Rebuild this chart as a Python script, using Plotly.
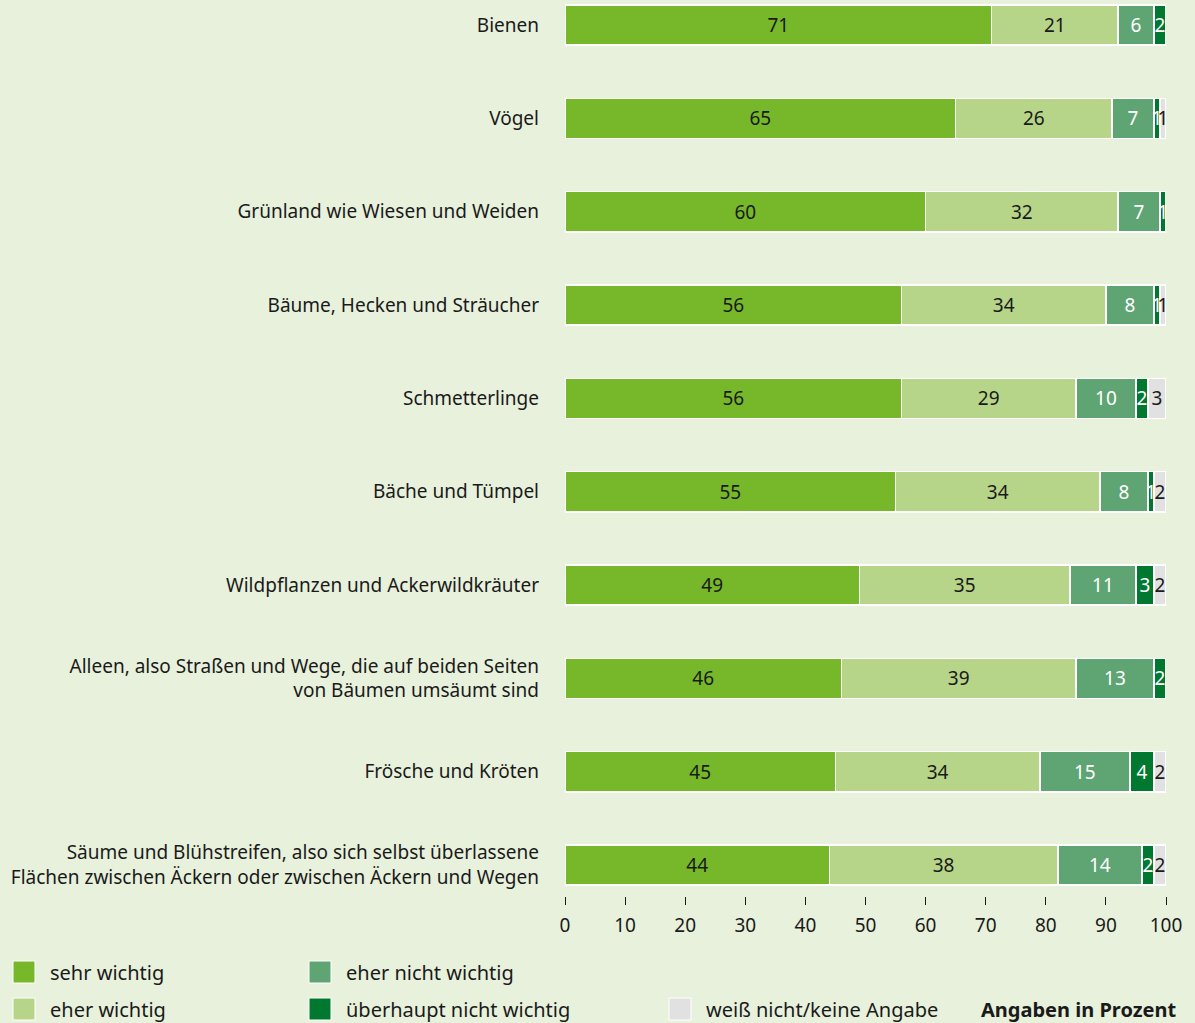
import plotly.graph_objects as go

categories = [
    "Bienen",
    "Vögel",
    "Grünland wie Wiesen und Weiden",
    "Bäume, Hecken und Sträucher",
    "Schmetterlinge",
    "Bäche und Tümpel",
    "Wildpflanzen und Ackerwildkräuter",
    "Alleen, also Straßen und Wege, die auf beiden Seiten<br>von Bäumen umsäumt sind",
    "Frösche und Kröten",
    "Säume und Blühstreifen, also sich selbst überlassene<br>Flächen zwischen Äckern oder zwischen Äckern und Wegen",
]

sehr_wichtig = [71, 65, 60, 56, 56, 55, 49, 46, 45, 44]
eher_wichtig = [21, 26, 32, 34, 29, 34, 35, 39, 34, 38]
eher_nicht_wichtig = [6, 7, 7, 8, 10, 8, 11, 13, 15, 14]
ueberhaupt_nicht = [2, 1, 1, 1, 2, 1, 3, 2, 4, 2]
weiss_nicht = [0, 1, 0, 1, 3, 2, 2, 0, 2, 2]

series_names = ["sehr wichtig", "eher wichtig", "eher nicht wichtig",
                "überhaupt nicht wichtig", "weiß nicht/keine Angabe"]
series_values = [sehr_wichtig, eher_wichtig, eher_nicht_wichtig, ueberhaupt_nicht, weiss_nicht]
colors = ["#76b82a", "#b7d588", "#5fa574", "#00782f", "#e1e1e1"]
text_colors = ["#1a1a1a", "#1a1a1a", "#ffffff", "#ffffff", "#1a1a1a"]

x_ticks = [0, 10, 20, 30, 40, 50, 60, 70, 80, 90, 100]

FONT = "Noto Sans"
BG = "#e8f1dc"

fig = go.Figure()
for name, vals, col, tcol in zip(series_names, series_values, colors, text_colors):
    fig.add_trace(go.Bar(
        y=categories, x=vals, orientation="h", name=name,
        marker=dict(color=col, line=dict(color="white", width=1.5)),
        text=[str(v) if v > 0 else "" for v in vals],
        textposition="inside", insidetextanchor="middle",
        textangle=0, constraintext="none", cliponaxis=False,
        textfont=dict(color=tcol, size=19, family=FONT),
        width=0.43, showlegend=False, hoverinfo="skip",
    ))

# manual legend (series index, column, row)
legend_items = [(0, 0, 0), (1, 0, 1), (2, 1, 0), (3, 1, 1), (4, 2, 1)]
col_x = [13, 309, 669]
row_y = [972, 1009]
shapes = []
annotations = []
for idx, c, r in legend_items:
    x0 = col_x[c]
    yc = row_y[r]
    shapes.append(dict(type="rect", xref="x domain", yref="paper",
                       x0=(x0 - 565) / 601, x1=(x0 + 22 - 565) / 601,
                       y0=-(yc + 11 - 896) / 896, y1=-(yc - 11 - 896) / 896,
                       fillcolor=colors[idx], line=dict(color="white", width=1)))
    annotations.append(dict(xref="x domain", yref="paper",
                            x=(x0 + 35 - 565) / 601, y=-(yc - 896) / 896,
                            text=series_names[idx], showarrow=False,
                            xanchor="left", yanchor="middle",
                            font=dict(size=20, family=FONT, color="#1a1a1a")))
annotations.append(dict(xref="x domain", yref="paper",
                        x=(1178 - 565) / 601, y=-(1009 - 896) / 896,
                        text="<b>Angaben in Prozent</b>", showarrow=False,
                        xanchor="right", yanchor="middle",
                        font=dict(size=20, family=FONT, color="#1a1a1a")))

fig.update_layout(
    barmode="stack",
    width=1195, height=1023,
    margin=dict(l=565, r=29, t=0, b=127),
    paper_bgcolor=BG, plot_bgcolor=BG,
    font=dict(family=FONT, color="#1a1a1a", size=19),
    uniformtext=dict(minsize=19, mode="show"),
    shapes=shapes, annotations=annotations,
    xaxis=dict(range=[0, 100], tickvals=x_ticks, ticks="outside", ticklen=8,
               tickwidth=1, tickcolor="#1a1a1a", showgrid=False, zeroline=False,
               showline=False, tickfont=dict(size=19), ticklabelstandoff=4,
               fixedrange=True),
    yaxis=dict(range=[9.332, -0.268], showgrid=False, zeroline=False,
               showline=False, ticks="", ticklabelstandoff=25,
               tickfont=dict(size=19), fixedrange=True),
)

fig.write_html(
    "out.html",
    config={"displayModeBar": False},
    post_script="document.body.style.margin='0';document.body.style.padding='0';document.body.style.overflow='hidden';",
)
